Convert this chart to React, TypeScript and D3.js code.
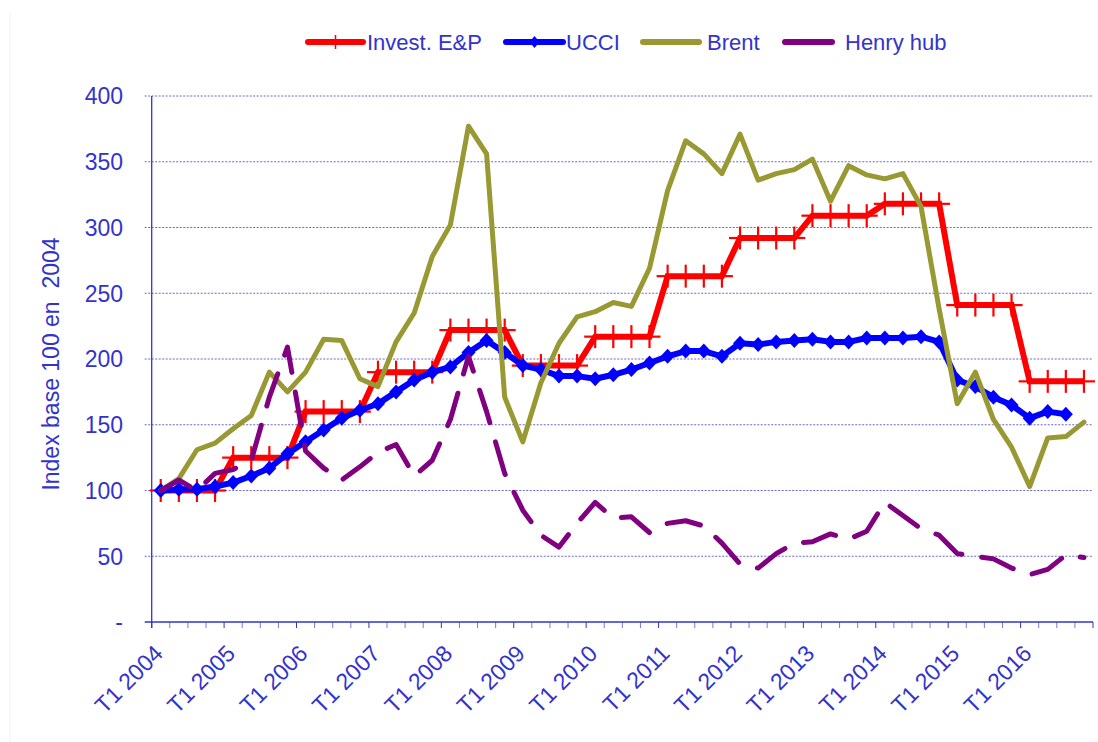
import React from 'react';
import * as d3 from 'd3';

const years = [2004, 2005, 2006, 2007, 2008, 2009, 2010, 2011, 2012, 2013, 2014, 2015, 2016];
const quarters = ['T1', 'T2', 'T3', 'T4'];
const categories = years.flatMap((y) => quarters.map((q) => `${q} ${y}`));

const investEP = [
  100, 100, 100, 100, 125, 125, 125, 125, 160, 160, 160, 160,
  190, 190, 190, 190, 222, 222, 222, 222, 195, 195, 195, 195,
  217, 217, 217, 217, 263, 263, 263, 263, 292, 292, 292, 292,
  309, 309, 309, 309, 318, 318, 318, 318, 241, 241, 241, 241,
  183, 183, 183, 183,
];
const ucci = [
  100, 101, 101, 103, 106, 111, 117, 128, 137, 146, 155, 161,
  166, 175, 184, 190, 194, 205, 214, 205, 195, 192, 187, 187,
  185, 188, 192, 197, 202, 206, 206, 202, 212, 211, 213, 214,
  215, 213, 213, 216, 216, 216, 217, 213, 184, 179, 171, 165,
  155, 160, 158,
];
const brent = [
  100, 109, 131, 136, 147, 157, 190, 175, 190, 215, 214, 185,
  179, 213, 235, 278, 302, 377, 356, 171, 137, 182, 212, 232,
  236, 243, 240, 269, 328, 366, 356, 341, 371, 336, 341, 344,
  352, 320, 347, 340, 337, 341, 316, 238, 166, 190, 154, 133,
  103, 140, 141, 152,
];
const henryHub = [
  100, 108, 100, 113, 116, 123, 171, 209, 130, 117, 108, 118,
  129, 135, 111, 123, 154, 202, 160, 113, 85, 66, 57, 75,
  91, 79, 80, 68, 75, 77, 73, 60, 44, 41, 52, 60,
  61, 67, 63, 69, 91, 81, 71, 66, 52, 50, 48, 41,
  36, 40, 51, 49,
];
const yTicks = [0, 50, 100, 150, 200, 250, 300, 350, 400];
const seriesNames = ['Invest. E&P', 'UCCI', 'Brent', 'Henry hub'];
const yTitle = 'Index base 100 en  2004';

const TEXT = '#3333CC';
const FONT = '"Liberation Sans", Arial, sans-serif';
const COLORS = ['#FF0000', '#0000FF', '#999933', '#800080'];

export default function App() {
  const W = 1098;
  const H = 742;
  const left = 151.7;
  const right = 1093;
  const top = 96;
  const bottom = 622;

  const x = d3.scaleBand<string>().domain(categories).range([left, right]).padding(0);
  const bw = x.bandwidth();
  const xc = (i: number) => (x(categories[i]) as number) + bw / 2;
  const y = d3.scaleLinear().domain([0, 400]).range([bottom, top]);

  const line = d3
    .line<number>()
    .x((_, i) => xc(i))
    .y((d) => y(d));

  const diamond = (cx: number, cy: number, hw: number, hh: number) =>
    `M${cx},${cy - hh}L${cx + hw},${cy}L${cx},${cy + hh}L${cx - hw},${cy}Z`;

  const boundaries = d3.range(categories.length + 1).map((i) =>
    i < categories.length ? (x(categories[i]) as number) : right
  );

  const legendItems = [
    { name: seriesNames[0], color: COLORS[0], x1: 308, x2: 363, tx: 367, marker: 'plus' },
    { name: seriesNames[1], color: COLORS[1], x1: 506, x2: 563, tx: 566, marker: 'diamond' },
    { name: seriesNames[2], color: COLORS[2], x1: 643, x2: 699, tx: 707, marker: 'none' },
    { name: seriesNames[3], color: COLORS[3], x1: 785, x2: 832, tx: 845, marker: 'none' },
  ];
  const ly = 42;

  return (
    <svg
      width={W}
      height={H}
      style={{ position: 'absolute', left: 0, top: 0, background: '#fff' }}
      fontFamily={FONT}
    >
      <line x1={10} x2={10} y1={12} y2={H} stroke="#f0f0f0" strokeWidth={1} />

      {/* gridlines */}
      {yTicks.filter((t) => t > 0).map((t) => (
        <line
          key={'g' + t}
          x1={left - 7}
          x2={right}
          y1={y(t)}
          y2={y(t)}
          stroke="#4444CC"
          strokeWidth={1}
          strokeDasharray="2,1.5"
          opacity={0.8}
        />
      ))}

      {/* axes */}
      <line x1={left} x2={left} y1={top} y2={bottom + 6} stroke={TEXT} strokeWidth={1.3} />
      <line x1={left - 7} x2={right} y1={bottom} y2={bottom} stroke={TEXT} strokeWidth={1.5} />
      {boundaries.map((bx, i) => (
        <line
          key={'xt' + i}
          x1={bx}
          x2={bx}
          y1={bottom}
          y2={bottom + 6}
          stroke={TEXT}
          strokeWidth={1}
          opacity={i % 4 === 0 ? 1 : 0.65}
        />
      ))}

      {/* y tick labels */}
      {yTicks.map((t) => (
        <text
          key={'yl' + t}
          x={123}
          y={y(t)}
          dy="0.36em"
          textAnchor="end"
          fontSize={23}
          fill={TEXT}
        >
          {t === 0 ? '-' : String(t)}
        </text>
      ))}

      {/* y title */}
      <text
        transform={`translate(59,364) rotate(-90)`}
        textAnchor="middle"
        fontSize={23}
        fill={TEXT}
        style={{ whiteSpace: 'pre' }}
      >
        {yTitle}
      </text>

      {/* x labels */}
      {categories.map((c, i) =>
        i % 4 === 0 ? (
          <text
            key={'xl' + i}
            transform={`translate(${xc(i) + 3.5},655) rotate(-45)`}
            textAnchor="end"
            fontSize={23}
            fill={TEXT}
          >
            {c}
          </text>
        ) : null
      )}

      {/* Invest E&P */}
      <path d={line(investEP) || ''} fill="none" stroke={COLORS[0]} strokeWidth={6} strokeLinejoin="miter" />
      {investEP.map((v, i) => (
        <g key={'p' + i} stroke={COLORS[0]} strokeWidth={2.2}>
          <line x1={xc(i) - 11} x2={xc(i) + 11} y1={y(v)} y2={y(v)} />
          <line x1={xc(i)} x2={xc(i)} y1={y(v) - 11.5} y2={y(v) + 11.5} />
        </g>
      ))}

      {/* UCCI */}
      <path d={line(ucci) || ''} fill="none" stroke={COLORS[1]} strokeWidth={6} strokeLinejoin="round" />
      {ucci.map((v, i) => (
        <path key={'d' + i} d={diamond(xc(i), y(v), 7, 7.5)} fill={COLORS[1]} />
      ))}

      {/* Brent */}
      <path d={line(brent) || ''} fill="none" stroke={COLORS[2]} strokeWidth={5} strokeLinejoin="round" strokeLinecap="round" />

      {/* Henry hub */}
      <path
        d={line(henryHub) || ''}
        fill="none"
        stroke={COLORS[3]}
        strokeWidth={5}
        strokeLinejoin="round"
        strokeLinecap="round"
        strokeDasharray="34,20"
      />

      {/* legend */}
      {legendItems.map((it) => (
        <g key={it.name}>
          <line x1={it.x1} x2={it.x2} y1={ly} y2={ly} stroke={it.color} strokeWidth={6} strokeLinecap="round" />
          {it.marker === 'plus' ? (
            <line x1={(it.x1 + it.x2) / 2} x2={(it.x1 + it.x2) / 2} y1={ly - 7} y2={ly + 7} stroke={it.color} strokeWidth={1.5} />
          ) : null}
          {it.marker === 'diamond' ? (
            <path d={diamond((it.x1 + it.x2) / 2, ly, 5, 6)} fill={it.color} />
          ) : null}
          <text x={it.tx} y={ly + 8} fontSize={22} fill={TEXT}>
            {it.name}
          </text>
        </g>
      ))}
    </svg>
  );
}
